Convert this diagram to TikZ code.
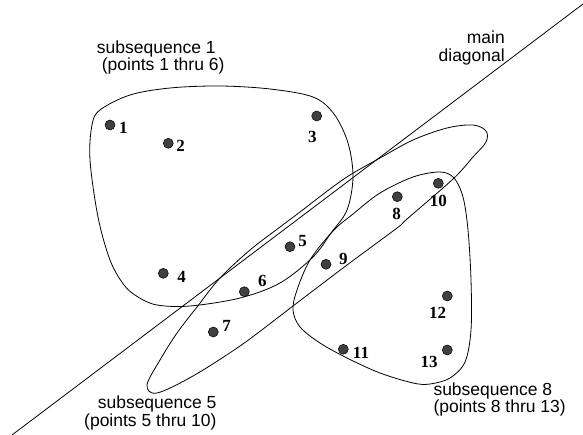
\documentclass[tikz,border=0pt]{standalone}
\usepackage{fontspec}
\setmainfont{Liberation Serif}
\newfontfamily\labsans{Liberation Sans}
\begin{document}
\begin{tikzpicture}[x=1pt,y=-1pt,
  hull/.style={line width=0.8pt,black},
  ptdot/.style={circle,draw=black,fill=black!75,line width=0.5pt,minimum size=10pt,inner sep=0pt},
  numtxt/.style={inner sep=0pt,font=\bfseries\fontsize{17}{17}\selectfont},
  captxt/.style={inner sep=0pt,font=\labsans\fontsize{17.5}{18}\selectfont}]
\useasboundingbox (0,0) rectangle (583,435);
% main diagonal
\coordinate (d1) at (12,435);
\coordinate (d2) at (583,4);
\draw[hull] (d1) -- (d2);
% subsequence 1
\draw[hull] plot[smooth cycle,tension=0.55] coordinates {
 (100,110) (130,95) (170,88) (220,86) (270,89) (313,97) (334,114) (348,143)
 (353,177) (347,210) (331,233) (313,257) (280,283) (240,298) (190,306)
 (157,305) (138,297) (124,285) (110,260) (98,217) (90,160) (92,125)};
% subsequence 5
\draw[hull] plot[smooth cycle,tension=0.55] coordinates {
 (147,385) (160,360) (177,333) (197,307) (220,278) (250,250) (280,227)
 (300,212) (330,189) (350,175) (380,158) (413,140) (447,128) (473,125)
 (486,131) (486,142) (473,157) (453,179) (407,219) (397,228) (347,265)
 (293,306) (280,316) (240,346) (193,376) (157,393)};
% subsequence 8
\draw[hull] plot[smooth cycle,tension=0.55] coordinates {
 (413,177) (440,172) (454,178) (463,197) (468,230) (471,280) (471,330)
 (465,362) (450,378) (430,384) (413,383) (380,373) (347,358) (320,343)
 (300,327) (293,310) (297,290) (310,260) (333,231) (353,214) (380,193)};
% points
\node[ptdot] (p1) at (110,125) {};
\node[ptdot] (p2) at (168.3,143.3) {};
\node[ptdot] (p3) at (316.7,116) {};
\node[ptdot] (p4) at (163.3,273.3) {};
\node[ptdot] (p5) at (290,246.7) {};
\node[ptdot] (p6) at (244.3,291.7) {};
\node[ptdot] (p7) at (213.3,332) {};
\node[ptdot] (p8) at (397.3,196.7) {};
\node[ptdot] (p9) at (326,264.3) {};
\node[ptdot] (p10) at (438.3,183.3) {};
\node[ptdot] (p11) at (343.3,349.3) {};
\node[ptdot] (p12) at (447.3,296) {};
\node[ptdot] (p13) at (447.3,350) {};
% labels
\node[numtxt] (l1) at (123.3,128.3) {1};
\node[numtxt] (l2) at (180.7,145.7) {2};
\node[numtxt] (l3) at (312.3,137.3) {3};
\node[numtxt] (l4) at (181.7,277.3) {4};
\node[numtxt] (l5) at (302.7,241.5) {5};
\node[numtxt] (l6) at (262.3,281.3) {6};
\node[numtxt] (l7) at (226.7,326) {7};
\node[numtxt] (l8) at (396.7,214) {8};
\node[numtxt] (l9) at (343.3,259) {9};
\node[numtxt] (l10) at (438.3,200.7) {10};
\node[numtxt] (l11) at (361,353) {11};
\node[numtxt] (l12) at (437.7,313) {12};
\node[numtxt] (l13) at (429,362) {13};
% captions
\node[captxt,anchor=base west] (c1a) at (96.7,53.5) {subsequence 1};
\node[captxt,anchor=base west] (c1b) at (101.7,71) {(points 1 thru 6)};
\node[captxt,anchor=base east] (cma) at (505,43.5) {main};
\node[captxt,anchor=base east] (cmb) at (505,62) {diagonal};
\node[captxt,anchor=base east] (c5a) at (216.7,408.5) {subsequence 5};
\node[captxt,anchor=base east] (c5b) at (216.7,426) {(points 5 thru 10)};
\node[captxt,anchor=base west] (c8a) at (433.3,395) {subsequence 8};
\node[captxt,anchor=base west] (c8b) at (433.3,412.7) {(points 8 thru 13)};
\end{tikzpicture}
\end{document}
